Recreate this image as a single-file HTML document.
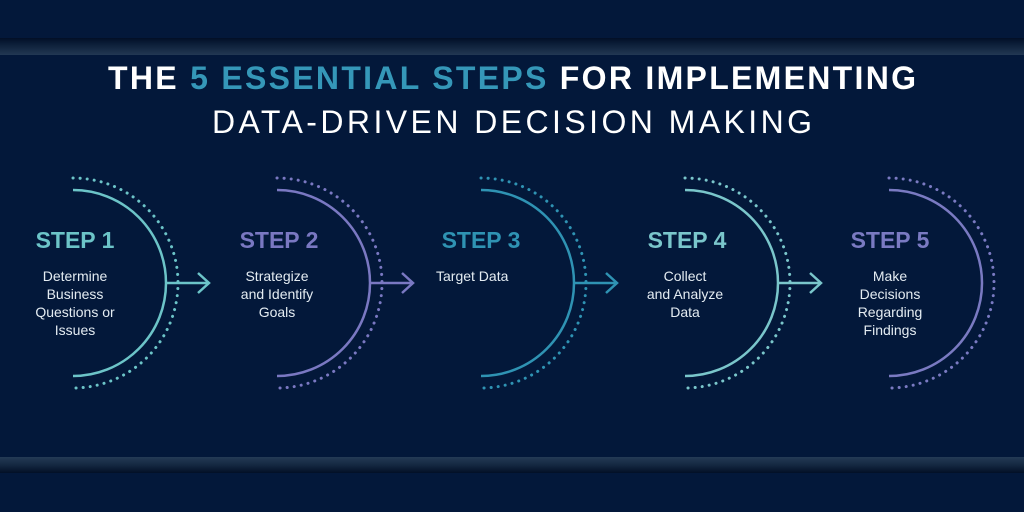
<!DOCTYPE html>
<html><head><meta charset="utf-8"><style>
html,body{margin:0;padding:0;background:#03183a;}
svg{display:block}
</style></head><body>
<svg width="1024" height="512" viewBox="0 0 1024 512" xmlns="http://www.w3.org/2000/svg" font-family="Liberation Sans, sans-serif">
<defs>
<linearGradient id="tb" x1="0" y1="0" x2="0" y2="1">
<stop offset="0" stop-color="#020f26"/><stop offset="0.3" stop-color="#0a1c36"/><stop offset="1" stop-color="#223853"/>
</linearGradient>
<linearGradient id="bb" x1="0" y1="0" x2="0" y2="1">
<stop offset="0" stop-color="#243a55"/><stop offset="0.5" stop-color="#142841"/><stop offset="1" stop-color="#020f26"/>
</linearGradient>
</defs>
<rect width="1024" height="512" fill="#03183a"/>
<rect y="38" width="1024" height="17" fill="url(#tb)"/>
<rect y="457" width="1024" height="16" fill="url(#bb)"/>

<text x="108" y="89" font-size="32" font-weight="bold" fill="#fff" textLength="808" lengthAdjust="spacing">THE <tspan fill="#3597b8">5 ESSENTIAL STEPS</tspan> FOR IMPLEMENTING</text>
<text x="212" y="133" font-size="32" fill="#fff" textLength="600" lengthAdjust="spacing">DATA-DRIVEN DECISION MAKING</text>

<g fill="none" stroke-width="2.5">
<g stroke="#6cc4c8">
<path d="M73 190 A93 93 0 0 1 73 376"/>
<path d="M73 178 A105 105 0 0 1 73 388" stroke-dasharray="0.1 7" stroke-linecap="round" stroke-width="3"/>
<path d="M166 283 H208 M198 273 L209 283 L198 293"/>
</g>
<g stroke="#7a78c2">
<path d="M277 190 A93 93 0 0 1 277 376"/>
<path d="M277 178 A105 105 0 0 1 277 388" stroke-dasharray="0.1 7" stroke-linecap="round" stroke-width="3"/>
<path d="M370 283 H412 M402 273 L413 283 L402 293"/>
</g>
<g stroke="#2f93b3">
<path d="M481 190 A93 93 0 0 1 481 376"/>
<path d="M481 178 A105 105 0 0 1 481 388" stroke-dasharray="0.1 7" stroke-linecap="round" stroke-width="3"/>
<path d="M574 283 H616 M606 273 L617 283 L606 293"/>
</g>
<g stroke="#7ac6cb">
<path d="M685 190 A93 93 0 0 1 685 376"/>
<path d="M685 178 A105 105 0 0 1 685 388" stroke-dasharray="0.1 7" stroke-linecap="round" stroke-width="3"/>
<path d="M778 283 H820 M810 273 L821 283 L810 293"/>
</g>
<g stroke="#7a7ac2">
<path d="M889 190 A93 93 0 0 1 889 376"/>
<path d="M889 178 A105 105 0 0 1 889 388" stroke-dasharray="0.1 7" stroke-linecap="round" stroke-width="3"/>
</g>
</g>

<g font-weight="bold" font-size="23" text-anchor="middle">
<text x="75" y="248" fill="#6cc4c8">STEP 1</text>
<text x="279" y="248" fill="#7a78c2">STEP 2</text>
<text x="481" y="248" fill="#2f93b3">STEP 3</text>
<text x="687" y="248" fill="#7ac6cb">STEP 4</text>
<text x="890" y="248" fill="#7a7ac2">STEP 5</text>
</g>
<g font-size="14" fill="#e4ecf2" text-anchor="middle">
<text x="75" y="281">Determine</text>
<text x="75" y="299">Business</text>
<text x="75" y="317">Questions or</text>
<text x="75" y="335">Issues</text>
<text x="277" y="281">Strategize</text>
<text x="277" y="299">and Identify</text>
<text x="277" y="317">Goals</text>
<text x="436" y="281" text-anchor="start">Target Data</text>
<text x="685" y="281">Collect</text>
<text x="685" y="299">and Analyze</text>
<text x="685" y="317">Data</text>
<text x="890" y="281">Make</text>
<text x="890" y="299">Decisions</text>
<text x="890" y="317">Regarding</text>
<text x="890" y="335">Findings</text>
</g>
</svg>
</body></html>
